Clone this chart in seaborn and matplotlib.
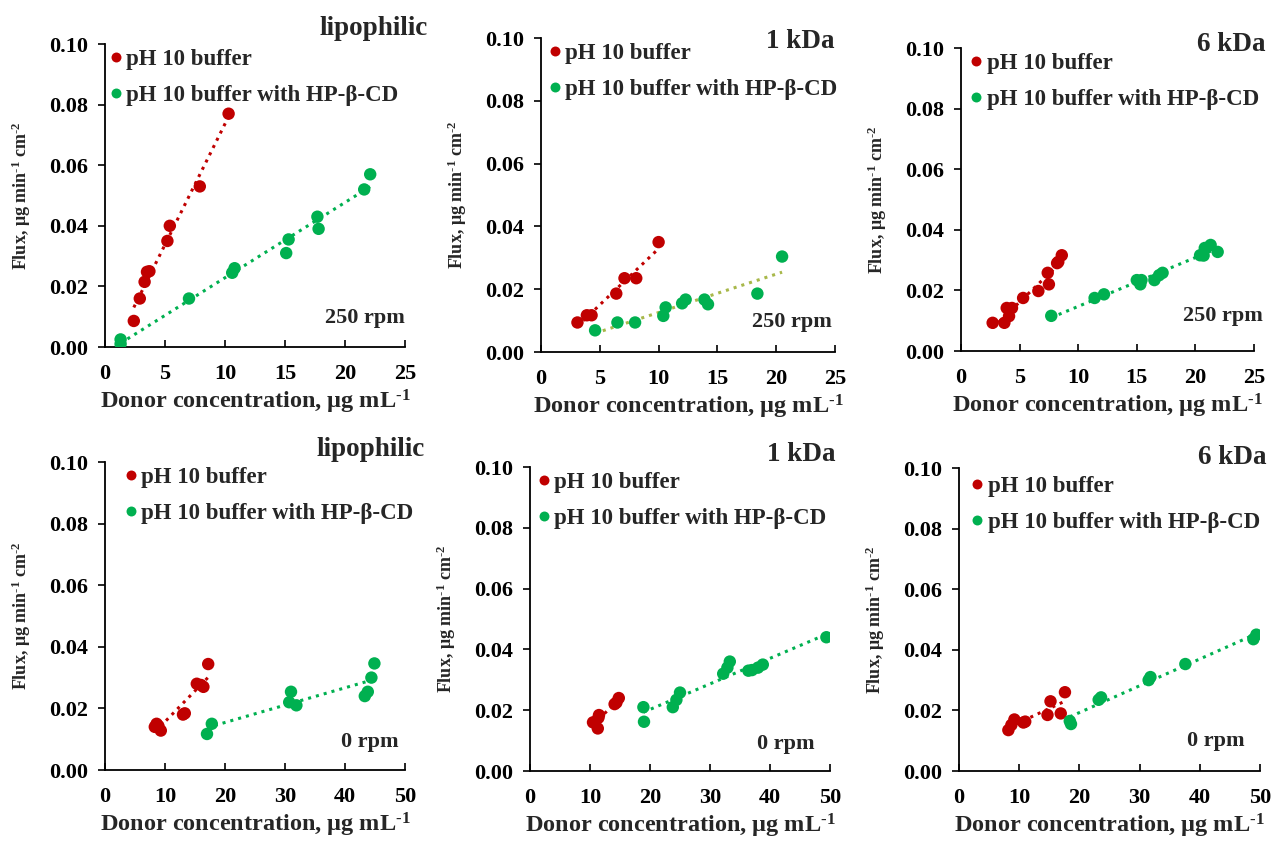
import numpy as np
import pandas as pd
import matplotlib
matplotlib.use("Agg")
import matplotlib.pyplot as plt
import seaborn as sns

sns.set_style("ticks")
plt.rcParams["font.family"] = ["Liberation Serif", "DejaVu Serif"]
plt.rcParams["font.weight"] = "bold"
plt.rcParams["mathtext.fontset"] = "custom"
plt.rcParams["mathtext.rm"] = "Liberation Serif:bold"
plt.rcParams["mathtext.default"] = "rm"

# ------------------------------------------------------------
# Data (donor conc. ug/mL, flux ug/min/cm2)
# ------------------------------------------------------------
# 250 rpm, lipophilic
lip250_buf_x = [2.4, 2.9, 3.3, 3.5, 3.7, 5.2, 5.4, 7.9, 10.3]
lip250_buf_y = [0.0086, 0.016, 0.0215, 0.0248, 0.025, 0.035, 0.040, 0.053, 0.077]
lip250_cd_x = [1.3, 1.3, 7.0, 10.6, 10.8, 15.1, 15.3, 17.7, 17.8, 21.6, 22.1]
lip250_cd_y = [0.001, 0.0025, 0.016, 0.0245, 0.026, 0.031, 0.0355, 0.043, 0.039, 0.052, 0.057]

# 250 rpm, 1 kDa
k1_250_buf_x = [3.1, 3.9, 4.3, 6.4, 7.1, 8.1, 10.0]
k1_250_buf_y = [0.0094, 0.0117, 0.0117, 0.0186, 0.0235, 0.0235, 0.035]
k1_250_cd_x = [4.6, 6.5, 8.0, 10.4, 10.6, 12.0, 12.3, 13.9, 14.2, 18.4, 20.5]
k1_250_cd_y = [0.0069, 0.0094, 0.0094, 0.0115, 0.0142, 0.0155, 0.0167, 0.0167, 0.0152, 0.0186, 0.0304]

# 250 rpm, 6 kDa
k6_250_buf_x = [2.7, 3.7, 3.9, 4.1, 4.35, 5.3, 6.6, 7.4, 7.5, 8.2, 8.3, 8.6]
k6_250_buf_y = [0.0093, 0.0093, 0.0142, 0.0115, 0.0142, 0.0175, 0.0198, 0.0258, 0.022, 0.029, 0.0294, 0.0316]
k6_250_cd_x = [7.7, 11.4, 12.2, 15.0, 15.3, 15.4, 16.5, 16.9, 17.2, 20.4, 20.7, 20.8, 21.3, 21.9]
k6_250_cd_y = [0.0116, 0.0175, 0.0187, 0.0234, 0.022, 0.0234, 0.0234, 0.025, 0.0258, 0.0316, 0.0315, 0.034, 0.035, 0.0327]

# 0 rpm, lipophilic
lip0_buf_x = [8.3, 8.6, 8.9, 9.3, 13.0, 13.3, 15.3, 16.0, 16.4, 17.2]
lip0_buf_y = [0.014, 0.015, 0.0143, 0.0128, 0.018, 0.0184, 0.028, 0.0276, 0.027, 0.0344]
lip0_cd_x = [17.0, 17.8, 30.7, 31.0, 31.9, 43.3, 43.8, 44.4, 44.9]
lip0_cd_y = [0.0117, 0.015, 0.022, 0.0254, 0.021, 0.024, 0.0254, 0.030, 0.0346]

# 0 rpm, 1 kDa
k1_0_buf_x = [10.5, 11.3, 11.4, 11.5, 14.1, 14.4, 14.8]
k1_0_buf_y = [0.016, 0.014, 0.0175, 0.0184, 0.022, 0.0225, 0.024]
k1_0_cd_x = [18.9, 19.0, 23.8, 24.4, 25.0, 32.2, 32.9, 33.3, 36.4, 37.0, 38.0, 38.8, 49.4]
k1_0_cd_y = [0.021, 0.0162, 0.021, 0.0234, 0.0258, 0.032, 0.034, 0.036, 0.033, 0.0332, 0.034, 0.035, 0.044]

# 0 rpm, 6 kDa
k6_0_buf_x = [8.2, 8.7, 9.2, 10.7, 11.0, 14.7, 15.2, 16.9, 17.6]
k6_0_buf_y = [0.0135, 0.0152, 0.017, 0.016, 0.0163, 0.0185, 0.023, 0.019, 0.026]
k6_0_cd_x = [18.4, 18.6, 23.2, 23.6, 31.5, 31.8, 37.6, 48.9, 49.4]
k6_0_cd_y = [0.0165, 0.0155, 0.0235, 0.0243, 0.030, 0.031, 0.0353, 0.0435, 0.045]

panel_titles = ["lipophilic", "1 kDa", "6 kDa", "lipophilic", "1 kDa", "6 kDa"]
speed_labels = ["250 rpm", "250 rpm", "250 rpm", "0 rpm", "0 rpm", "0 rpm"]
series_names = ["pH 10 buffer", "pH 10 buffer with HP-\u03b2-CD"]

panels = [
    (lip250_buf_x, lip250_buf_y, lip250_cd_x, lip250_cd_y),
    (k1_250_buf_x, k1_250_buf_y, k1_250_cd_x, k1_250_cd_y),
    (k6_250_buf_x, k6_250_buf_y, k6_250_cd_x, k6_250_cd_y),
    (lip0_buf_x, lip0_buf_y, lip0_cd_x, lip0_cd_y),
    (k1_0_buf_x, k1_0_buf_y, k1_0_cd_x, k1_0_cd_y),
    (k6_0_buf_x, k6_0_buf_y, k6_0_cd_x, k6_0_cd_y),
]

red = "#C00000"
green = "#00B050"
palette = {series_names[0]: red, series_names[1]: green}

# layout (figure fractions)
W, H = 1279, 847
rects = [
    (105, 347, 300, 303), (541, 352, 294, 314), (961, 351, 293, 303),
    (105, 770, 300, 308), (530, 771, 300, 304), (959, 771, 301, 303),
]
title_pos = [(1.077, 1.05), (1.0, 0.99), (1.04, 1.01),
             (1.067, 1.04), (1.02, 1.04), (1.02, 1.036)]
speed_pos = [(1.0, 0.095), (0.99, 0.096), (1.03, 0.115),
             (0.98, 0.09), (0.95, 0.09), (0.95, 0.10)]
legend_pos = [(-0.01, 1.0), (0.0, 1.0), (0.005, 1.0),
              (0.04, 1.0), (0.0, 1.0), (0.015, 0.99)]

fig = plt.figure(figsize=(W / 100, H / 100), dpi=100)

for i, (bx, by, cx, cy) in enumerate(panels):
    l, b, w, h = rects[i]
    ax = fig.add_axes([l / W, (H - b) / H, w / W, h / H])

    df = pd.DataFrame({
        "x": bx + cx,
        "y": by + cy,
        "series": [series_names[0]] * len(bx) + [series_names[1]] * len(cx),
    })

    # trend lines (linear fits, dotted like the Excel originals)
    sns.regplot(x=bx, y=by, ax=ax, scatter=False, ci=None, truncate=True,
                line_kws=dict(color=red, ls=":", lw=2.2))
    line_green = "#A8B84A" if i == 1 else green
    sns.regplot(x=cx, y=cy, ax=ax, scatter=False, ci=None, truncate=True,
                line_kws=dict(color=line_green, ls=":", lw=2.2))

    sns.scatterplot(data=df, x="x", y="y", hue="series", palette=palette,
                    s=80, linewidth=0, ax=ax, zorder=3)

    xmax = 25 if i < 3 else 50
    ax.set_xlim(0, xmax)
    ax.set_ylim(0, 0.10)
    ax.set_xticks(np.arange(0, xmax + 1, 5 if i < 3 else 10))
    ax.set_yticks(np.arange(0, 0.101, 0.02))
    ax.yaxis.set_major_formatter(matplotlib.ticker.FormatStrFormatter("%.2f"))

    sns.despine(ax=ax)
    for sp in ["left", "bottom"]:
        ax.spines[sp].set_linewidth(1.3)
        ax.spines[sp].set_color("black")
    ax.tick_params(axis="y", direction="out", length=5, width=1.2,
                   labelsize=16, pad=7, colors="black")
    ax.tick_params(axis="x", direction="in", length=5, width=1.2,
                   labelsize=16, pad=12, colors="black")
    for lab in ax.get_xticklabels() + ax.get_yticklabels():
        lab.set_fontweight("bold")

    ax.set_xlabel("Donor concentration, \u03bcg mL$^{\\text{-1}}$", fontsize=17.5,
                  fontweight="bold", labelpad=3)
    ax.set_ylabel("Flux, \u03bcg min$^{\\text{-1}}$ cm$^{\\text{-2}}$", fontsize=13,
                  fontweight="bold", labelpad=12)

    tx, ty = title_pos[i]
    ax.text(tx, ty, panel_titles[i], transform=ax.transAxes, ha="right",
            va="center", fontsize=19.5, fontweight="bold", clip_on=False)
    sx, sy = speed_pos[i]
    ax.text(sx, sy, speed_labels[i], transform=ax.transAxes, ha="right",
            va="center", fontsize=16, fontweight="bold", clip_on=False)

    leg = ax.legend(loc="upper left", bbox_to_anchor=legend_pos[i],
                    frameon=False, borderpad=0, borderaxespad=0.2,
                    handletextpad=0.05, handlelength=0.8, labelspacing=0.65,
                    markerscale=0.8, prop=dict(size=16.5, weight="bold"))

fig.savefig("out.png", dpi=100)
